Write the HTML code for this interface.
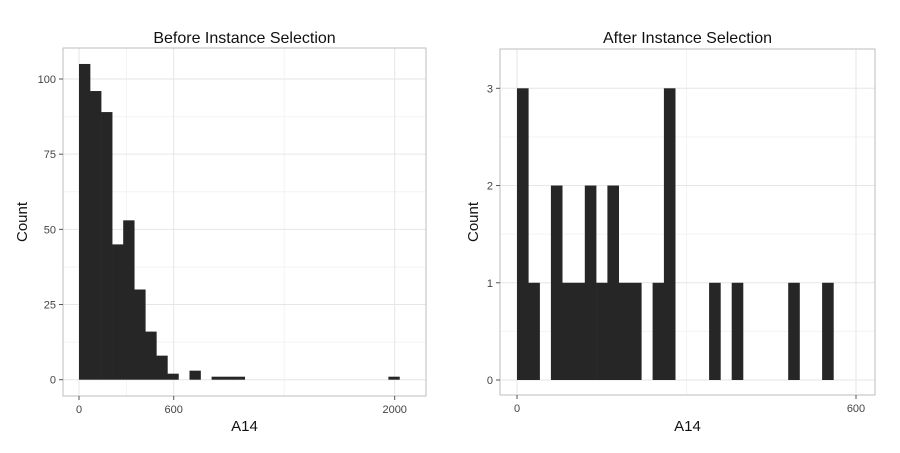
<!DOCTYPE html>
<html><head><meta charset="utf-8"><style>
body{margin:0;background:#fff;font-family:"Liberation Sans",Arial,sans-serif}
svg text{font-family:"Liberation Sans",Arial,sans-serif}
</style></head><body>
<svg id="c" width="900" height="448" viewBox="0 0 900 448" xmlns="http://www.w3.org/2000/svg"></svg>
<script>
const leftCounts=[105,96,89,45,53,30,16,8,2,0,3,0,1,1,1,0,0,0,0,0,0,0,0,0,0,0,0,0,1];
const leftBinWidth=70;
const leftXTicks=[0,600,2000];
const leftYTicks=[0,25,50,75,100];
const rightCounts=[3,1,0,2,1,1,2,1,2,1,1,0,1,3,0,0,0,1,0,1,0,0,0,0,1,0,0,1];
const rightBinWidth=20;
const rightXTicks=[0,600];
const rightYTicks=[0,1,2,3];
const NS="http://www.w3.org/2000/svg";
const svg=document.getElementById('c');
function mk(t,a,p){const e=document.createElementNS(NS,t);for(const k in a)e.setAttribute(k,a[k]);(p||svg).appendChild(e);return e;}
function panel(o){
  const g=mk('g',{});
  
  
  const X=v=>o.x0+(v-o.vx0)*o.sx, Y=v=>o.y0-v*o.sy;
  mk('rect',{x:o.l,y:o.t,width:o.r-o.l,height:o.b-o.t,fill:'#fff'},g);
  o.xMinor.forEach(v=>mk('line',{x1:X(v),x2:X(v),y1:o.t,y2:o.b,stroke:'#f3f3f3','stroke-width':1},g));
  o.yMinor.forEach(v=>mk('line',{x1:o.l,x2:o.r,y1:Y(v),y2:Y(v),stroke:'#f3f3f3','stroke-width':1},g));
  o.xt.forEach(v=>mk('line',{x1:X(v),x2:X(v),y1:o.t,y2:o.b,stroke:'#e6e6e6','stroke-width':1},g));
  o.yt.forEach(v=>mk('line',{x1:o.l,x2:o.r,y1:Y(v),y2:Y(v),stroke:'#e6e6e6','stroke-width':1},g));
  o.counts.forEach((c,i)=>{ if(!c)return;
    const r=mk('rect',{x:X(i*o.bw),y:Y(c),width:X((i+1)*o.bw)-X(i*o.bw)+0.3,height:Y(0)-Y(c),fill:'#262626'},g);
    
    
  });
  mk('rect',{x:o.l,y:o.t,width:o.r-o.l,height:o.b-o.t,fill:'none',stroke:'#bdbdbd','stroke-width':1},g);
  o.xt.forEach(v=>{mk('line',{x1:X(v),x2:X(v),y1:o.b,y2:o.b+4,stroke:'#555'},g);
    const t=mk('text',{x:X(v),y:o.b+17,'text-anchor':'middle','font-size':11,fill:'#444'},g);t.textContent=v;
    });
  o.yt.forEach(v=>{mk('line',{x1:o.l-4,x2:o.l,y1:Y(v),y2:Y(v),stroke:'#555'},g);
    const t=mk('text',{x:o.l-7,y:Y(v)+4,'text-anchor':'end','font-size':11,fill:'#444'},g);t.textContent=v;
    });
  const ti=mk('text',{x:(o.l+o.r)/2,y:43,'text-anchor':'middle','font-size':16,fill:'#111'},g);ti.textContent=o.title;
  
  const xl=mk('text',{x:(o.l+o.r)/2,y:431,'text-anchor':'middle','font-size':15,fill:'#111'},g);xl.textContent='A14';
  
  const yl=mk('text',{x:0,y:0,'text-anchor':'middle','font-size':15,fill:'#111',transform:`translate(${o.l-o.yOff},${(o.t+o.b)/2}) rotate(-90)`},g);yl.textContent='Count';
  
}
panel({name:'before-panel',title:'Before Instance Selection',l:63,r:426,t:48,b:396,x0:79,vx0:0,sx:(394.7-79)/2000,y0:379.7,sy:(379.7-79)/100,yOff:36,
  counts:leftCounts,bw:leftBinWidth,xt:leftXTicks,yt:leftYTicks,xMinor:[300,1300],yMinor:[12.5,37.5,62.5,87.5]});
panel({name:'after-panel',title:'After Instance Selection',l:500,r:875,t:49,b:395,x0:517,vx0:0,sx:(856-517)/600,y0:380,sy:(380-88.3)/3,yOff:22,
  counts:rightCounts,bw:rightBinWidth,xt:rightXTicks,yt:rightYTicks,xMinor:[300],yMinor:[0.5,1.5,2.5]});
</script>
</body></html>
